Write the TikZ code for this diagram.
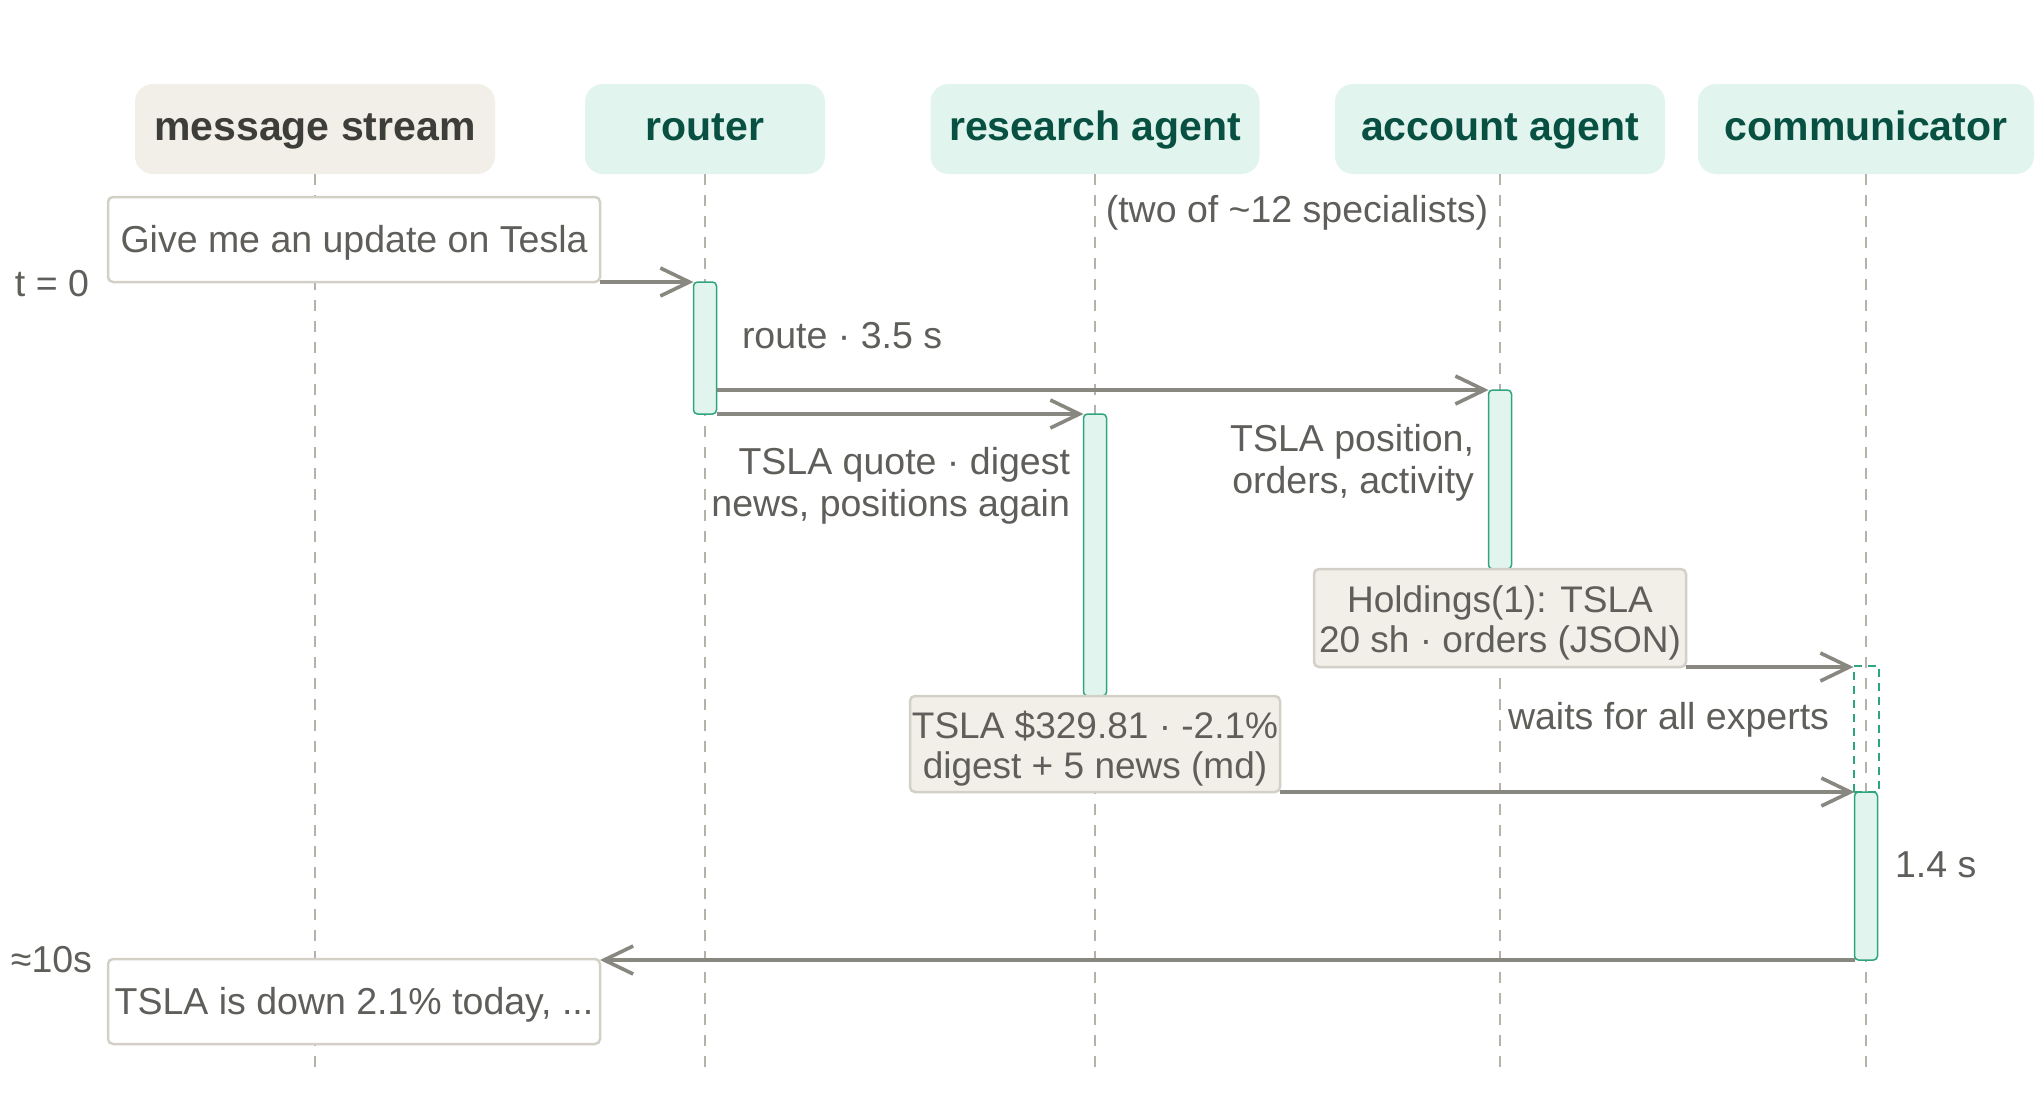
\documentclass[tikz,border=0pt]{standalone}
\usepackage{fontspec}
\setmainfont{Liberation Sans}
\usetikzlibrary{arrows.meta}
\definecolor{beige}{HTML}{F1EFE8}
\definecolor{mint}{HTML}{E1F5EE}
\definecolor{tealline}{HTML}{2FA57E}
\definecolor{darkgreen}{HTML}{085041}
\definecolor{darktext}{HTML}{3D3D3A}
\definecolor{textgray}{HTML}{5F5E5A}
\definecolor{arrowgray}{HTML}{888780}
\definecolor{bordergray}{HTML}{D3D1C7}
\definecolor{lifegray}{HTML}{B4B2A9}
\newcommand{\bodyfont}{\fontsize{18.75pt}{20.8pt}\selectfont}
\newcommand{\boxfont}{\fontsize{18.5pt}{19.75pt}\selectfont}
\begin{document}
\begin{tikzpicture}[x=0.5pt,y=-0.5pt,
  every node/.style={outer sep=0pt},
  head/.style={rounded corners=9pt, minimum height=45pt, inner xsep=0pt,
    text height=14.7pt, text depth=3pt,
    font=\fontsize{20.5pt}{24pt}\selectfont\bfseries, text=darkgreen, fill=mint},
  lifeline/.style={draw=lifegray, line width=1pt, dash pattern=on 5.5pt off 5pt},
  actbar/.style={draw=tealline, fill=mint, line width=0.75pt, rounded corners=2pt,
    minimum width=11.5pt, inner sep=0pt},
  waitbar/.style={draw=tealline, line width=1pt, dash pattern=on 4pt off 3pt,
    minimum width=12.5pt, inner sep=0pt},
  msgbox/.style={draw=bordergray, line width=1.25pt, rounded corners=2.5pt, fill=white,
    inner sep=0pt, text height=13.4pt, text depth=0pt, font=\bodyfont, text=textgray},
  retbox/.style={draw=bordergray, line width=1.25pt, rounded corners=2.5pt, fill=beige,
    inner sep=0pt},
  boxtext/.style={inner sep=0pt, align=center, font=\boxfont, text=textgray},
  lbl/.style={inner sep=0pt, font=\bodyfont, text=textgray},
  msg/.style={draw=arrowgray, line width=1.8pt,
    -{Straight Barb[length=14.5pt,width=14pt]}}
]
\fill[white] (0,0) rectangle (2040,1104);
\useasboundingbox (0,0) rectangle (2040,1104);

% headers
\node[head, fill=beige, text=darktext, minimum width=180pt] (hms) at (315,129) {message stream};
\node[head, minimum width=120pt] (hr) at (705,129) {router};
\node[head, minimum width=164.5pt] (hra) at (1095,129) {research agent};
\node[head, minimum width=165pt] (haa) at (1500,129) {account agent};
\node[head, minimum width=168pt] (hc) at (1866,129) {communicator};

% lifelines
\coordinate (ems) at (315,1067);
\coordinate (er) at (705,1067);
\coordinate (era) at (1095,1067);
\coordinate (eaa) at (1500,1067);
\coordinate (ec) at (1866,1067);
\draw[lifeline] (hms.south) -- (ems);
\draw[lifeline] (hr.south) -- (er);
\draw[lifeline] (hra.south) -- (era);
\draw[lifeline] (haa.south) -- (eaa);
\draw[lifeline] (hc.south) -- (ec);

% activation bars
\node[actbar, minimum height=66pt] (bR) at (705,348) {};
\node[actbar, minimum height=141pt] (bRA) at (1095,555) {};
\node[actbar, minimum height=89.5pt] (bAA) at (1500,479.5) {};
\node[actbar, minimum height=84pt] (bC) at (1866,876) {};
\node[waitbar, minimum height=63pt] (wt) at (1866,729) {};

% message boxes
\node[msgbox, minimum width=246pt, minimum height=42.5pt] (mq) at (354,239.5) {Give me an update on Tesla};
\node[msgbox, minimum width=246pt, minimum height=42.5pt] (ma) at (354,1001.5) {TSLA is down 2.1\% today, ...};
\node[retbox, minimum width=186pt, minimum height=49pt] (ra) at (1500,618) {};
\node[boxtext] (raT) at (1500,623) {Holdings(1): TSLA\\20 sh · orders (JSON)};
\node[retbox, minimum width=185pt, minimum height=48pt] (rr) at (1095,744) {};
\node[boxtext] (rrT) at (1095,748.5) {TSLA \$329.81 · -2.1\%\\digest + 5 news (md)};

% labels
\node[lbl, anchor=east] (t0) at (89,283.3) {t = 0};
\node[lbl, anchor=east] (t10) at (92,959.4) {≈10s};
\node[lbl, anchor=west] (lroute) at (742,335.7) {route · 3.5 s};
\node[lbl] (lspec) at (1297,212.6) {(two of {\char"7E}12 specialists)};
\node[lbl, anchor=east, align=right] (lquote) at (1070,486) {TSLA quote · digest\\news, positions again};
\node[lbl, anchor=east, align=right] (lpos) at (1474,463) {TSLA position,\\orders, activity};
\node[lbl, anchor=east] (lwait) at (1829,719.6) {waits for all experts};
\node[lbl, anchor=west] (ldur) at (1895,864.3) {1.4 s};

% messages
\draw[msg] (mq.east |- bR.north) -- (bR.north west);
\draw[msg] (bR.east |- bAA.north) -- (bAA.north west);
\draw[msg] (bR.south east) -- (bR.south east -| bRA.west);
\draw[msg] (ra.south east) -- (ra.south east -| wt.west);
\draw[msg] (rr.east |- bC.north) -- (bC.north west);
\draw[msg] (bC.south west) -- (bC.south west -| ma.east);
\end{tikzpicture}
\end{document}
